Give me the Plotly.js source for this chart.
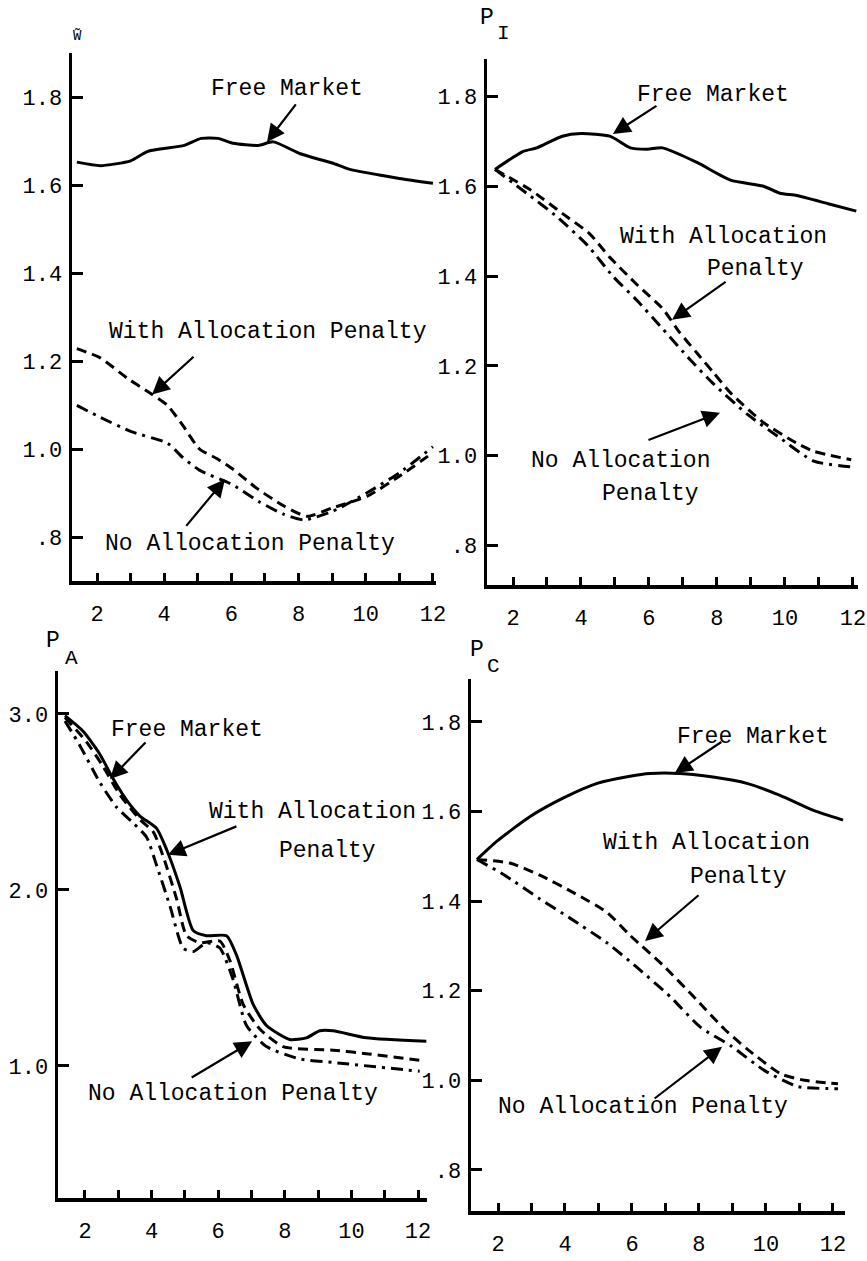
<!DOCTYPE html>
<html>
<head>
<meta charset="utf-8">
<script src="https://cdn.plot.ly/plotly-3.0.1.min.js"></script>
<style>html,body{margin:0;padding:0;background:#fff;}#chart{width:867px;height:1261px;}</style>
</head>
<body>
<div id="chart"></div>
<script>
// ---------- Data ----------
// Panel 1: W~
const wFreeX = [1.4,2.1,3.0,3.5,4.6,5.1,5.6,6.05,6.8,7.25,8.05,9.0,9.5,11.0,12.0];
const wFreeY = [1.652,1.644,1.655,1.676,1.690,1.706,1.706,1.695,1.690,1.698,1.671,1.650,1.636,1.615,1.604];
const wWithX = [1.4,2.1,2.9,3.6,4.1,4.55,5.05,5.55,6.05,6.75,7.55,8.25,9.0,10.05,11.0,12.0];
const wWithY = [1.228,1.207,1.161,1.126,1.099,1.054,1.000,0.979,0.954,0.911,0.871,0.847,0.866,0.893,0.938,0.992];
const wNoX = [1.4,2.1,3.0,4.1,4.55,5.05,6.05,6.85,7.55,8.15,9.0,10.05,11.0,12.0];
const wNoY = [1.099,1.072,1.040,1.013,0.981,0.952,0.918,0.879,0.852,0.839,0.858,0.901,0.946,1.005];

// Panel 2: P_I
const piFreeX = [1.47,2.3,2.7,3.45,4.0,4.85,5.45,5.95,6.4,7.4,8.4,9.35,9.85,10.35,11.3,12.1];
const piFreeY = [1.638,1.678,1.686,1.712,1.718,1.712,1.686,1.683,1.686,1.654,1.614,1.601,1.585,1.580,1.561,1.545];
const piWithX = [1.47,2.5,3.45,4.25,4.85,5.65,6.4,6.9,7.4,7.9,8.4,9.35,10.35,10.85,11.95];
const piWithY = [1.638,1.593,1.540,1.495,1.442,1.381,1.328,1.275,1.230,1.185,1.140,1.075,1.028,1.010,0.991];
const piNoX = [1.47,2.4,3.3,4.2,4.95,5.65,6.4,7.2,7.9,8.9,9.85,10.85,11.95];
const piNoY = [1.638,1.585,1.532,1.468,1.399,1.346,1.283,1.215,1.160,1.092,1.040,0.988,0.975];

// Panel 3: P_A
const paFreeX = [1.4,1.95,2.45,2.85,3.25,3.65,4.15,4.45,4.85,5.25,5.65,6.25,6.55,7.05,7.45,8.15,8.65,9.05,9.45,10.45,12.25];
const paFreeY = [2.99,2.90,2.77,2.63,2.51,2.42,2.35,2.23,2.02,1.77,1.74,1.74,1.63,1.35,1.23,1.15,1.16,1.20,1.20,1.16,1.14];
const paWithX = [1.4,2.05,2.55,3.05,3.65,4.05,4.35,4.75,5.05,5.45,6.05,6.35,6.75,7.25,7.95,9.45,10.45,12.15];
const paWithY = [2.98,2.84,2.70,2.54,2.40,2.33,2.19,1.95,1.74,1.70,1.71,1.60,1.35,1.21,1.11,1.09,1.07,1.03];
const paNoX = [1.4,1.85,2.45,2.95,3.45,3.85,4.15,4.55,4.95,5.25,5.65,6.05,6.45,6.85,7.45,8.45,9.45,12.05];
const paNoY = [2.96,2.82,2.61,2.47,2.38,2.30,2.14,1.91,1.67,1.65,1.70,1.67,1.49,1.23,1.11,1.04,1.02,0.97];

// Panel 4: P_C
const pcFreeX = [1.37,1.97,2.96,3.94,4.96,5.94,6.54,7.43,8.42,9.43,10.42,11.4,12.3];
const pcFreeY = [1.493,1.534,1.589,1.630,1.663,1.679,1.685,1.685,1.677,1.663,1.636,1.603,1.581];
const pcWithX = [1.37,2.35,3.25,4.25,5.25,5.95,6.95,7.95,8.75,9.45,10.45,11.15,12.15];
const pcWithY = [1.493,1.485,1.458,1.419,1.375,1.323,1.255,1.178,1.115,1.069,1.014,1.000,0.992];
const pcNoX = [1.37,2.15,3.25,4.15,5.25,6.15,7.15,8.05,8.95,9.95,10.95,12.15];
const pcNoY = [1.493,1.460,1.405,1.362,1.307,1.252,1.186,1.118,1.077,1.022,0.986,0.981];

// Tick labels
const xTickVals = [2,4,6,8,10,12];
const xTickText = ['2','4','6','8','10','12'];
const yTickValsP = [0.8,1.0,1.2,1.4,1.6,1.8];
const yTickTextP = ['.8','1.0','1.2','1.4','1.6','1.8'];
const yTickValsA = [1,2,3];
const yTickTextA = ['1.0','2.0','3.0'];

// ---------- Styling ----------
const W = 867, H = 1261;
const FONT = 'Liberation Mono, Courier New, monospace';
const solid = {color:'#000', width:3, shape:'spline', smoothing:0.6};
const dashed = {color:'#000', width:3, shape:'spline', smoothing:0.6, dash:'10px,6px'};
const dashdot = {color:'#000', width:3, shape:'spline', smoothing:0.6, dash:'12px,6px,3px,6px'};

function tr(x, y, line, xa, ya){
  return {x:x, y:y, xaxis:xa, yaxis:ya, mode:'lines', line:line, hoverinfo:'skip', showlegend:false};
}
const data = [
  tr(wFreeX,wFreeY,solid,'x','y'), tr(wWithX,wWithY,dashed,'x','y'), tr(wNoX,wNoY,dashdot,'x','y'),
  tr(piFreeX,piFreeY,solid,'x2','y2'), tr(piWithX,piWithY,dashed,'x2','y2'), tr(piNoX,piNoY,dashdot,'x2','y2'),
  tr(paFreeX,paFreeY,solid,'x3','y3'), tr(paWithX,paWithY,dashed,'x3','y3'), tr(paNoX,paNoY,dashdot,'x3','y3'),
  tr(pcFreeX,pcFreeY,solid,'x4','y4'), tr(pcWithX,pcWithY,dashed,'x4','y4'), tr(pcNoX,pcNoY,dashdot,'x4','y4')
];

function px2fx(p){ return p / W; }
function px2fy(p){ return 1 - p / H; }

function xAxis(l, r, range, anchor){
  return {domain:[px2fx(l), px2fx(r)], range:range, anchor:anchor,
    showline:true, linewidth:3.5, linecolor:'#000', showgrid:false, zeroline:false,
    ticks:'inside', ticklen:8, tickwidth:3, tickcolor:'#000',
    tickmode:'array', tickvals:xTickVals, ticktext:xTickText,
    minor:{tickmode:'linear', tick0:0, dtick:1, ticks:'inside', ticklen:8, tickwidth:3, tickcolor:'#000', showgrid:false},
    ticklabelstandoff:10,
    tickfont:{family:FONT, size:22, color:'#000'}};
}
function yAxis(top, bot, range, anchor, vals, text){
  return {domain:[px2fy(bot), px2fy(top)], range:range, anchor:anchor,
    showline:true, linewidth:3.5, linecolor:'#000', showgrid:false, zeroline:false,
    ticks:'inside', ticklen:11, tickwidth:3, tickcolor:'#000',
    tickmode:'array', tickvals:vals, ticktext:text,
    ticklabelstandoff:2,
    tickfont:{family:FONT, size:22, color:'#000'}};
}

function label(text, px, py, size){
  return {text:text, xref:'paper', yref:'paper', x:px2fx(px), y:px2fy(py),
    xanchor:'center', yanchor:'middle', showarrow:false,
    font:{family:FONT, size:size || 23, color:'#000'}};
}
function arrow(xa, ya, x, y, ax, ay){
  return {text:'', xref:xa, yref:ya, x:x, y:y, ax:ax, ay:ay, axref:'pixel', ayref:'pixel',
    showarrow:true, arrowhead:2, arrowsize:1.6, arrowwidth:2.2, arrowcolor:'#000', standoff:0};
}

const annotations = [
  // axis names (letter and subscript drawn as separate texts)
  label('W\u0303', 77, 36, 14),
  label('P', 487, 18, 23), label('I', 503, 33, 21),
  label('P', 53, 641, 23), label('A', 71, 658, 21),
  label('P', 477, 650, 23), label('C', 493, 666, 21),
  // panel 1
  label('Free Market', 287, 89), arrow('x','y',7.06,1.698,30,-39),
  label('With Allocation Penalty', 268, 332), arrow('x','y',3.64,1.124,43,-39),
  label('No Allocation Penalty', 250, 544), arrow('x','y',5.81,0.931,-40,48),
  // panel 2
  label('Free Market', 713, 95), arrow('x2','y2',4.94,1.717,45,-29),
  label('With Allocation', 723, 237), label('Penalty', 755, 269), arrow('x2','y2',6.68,1.303,55,-39),
  label('No Allocation', 620, 461), label('Penalty', 650, 494), arrow('x2','y2',8.09,1.096,-73,28),
  // panel 3
  label('Free Market', 187, 730), arrow('x3','y3',2.75,2.63,37,-38),
  label('With Allocation', 312, 812), label('Penalty', 327, 851), arrow('x3','y3',4.49,2.20,70,-29),
  label('No Allocation Penalty', 233, 1094), arrow('x3','y3',7.02,1.14,-62,37),
  // panel 4
  label('Free Market', 753, 737), arrow('x4','y4',7.28,1.686,48,-32),
  label('With Allocation', 706, 843), label('Penalty', 738, 877), arrow('x4','y4',6.39,1.311,55,-47),
  label('No Allocation Penalty', 643, 1107), arrow('x4','y4',8.69,1.075,-69,53)
];

const layout = {
  width:W, height:H, margin:{l:0,r:0,t:0,b:0},
  paper_bgcolor:'#fff', plot_bgcolor:'rgba(0,0,0,0)',
  showlegend:false,
  xaxis: xAxis(72, 436, [1.256, 12.09], 'y'),
  yaxis: yAxis(53, 581, [0.70, 1.90], 'x', yTickValsP, yTickTextP),
  xaxis2: xAxis(487, 858, [1.235, 12.15], 'y2'),
  yaxis2: yAxis(59, 585, [0.712, 1.884], 'x2', yTickValsP, yTickTextP),
  xaxis3: xAxis(58, 427, [1.19, 12.27], 'y3'),
  yaxis3: yAxis(671, 1198, [0.25, 3.244], 'x3', yTickValsA, yTickTextA),
  xaxis4: xAxis(471, 845, [1.194, 12.36], 'y4'),
  yaxis4: yAxis(679, 1211, [0.708, 1.896], 'x4', yTickValsP, yTickTextP),
  annotations: annotations
};

Plotly.newPlot('chart', data, layout, {displayModeBar:false, staticPlot:true});
</script>
</body>
</html>
